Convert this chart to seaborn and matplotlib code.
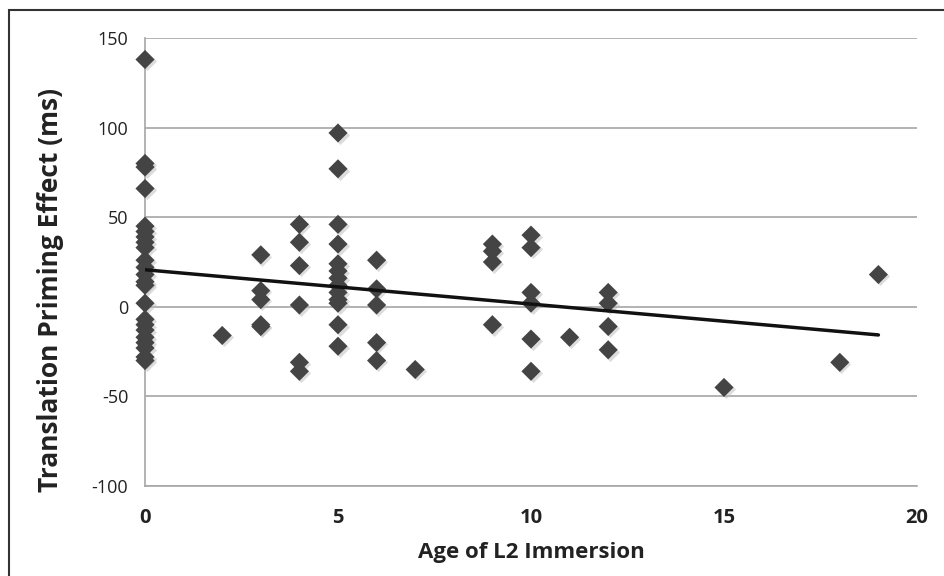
import numpy as np
import pandas as pd
import seaborn as sns
import matplotlib.pyplot as plt
from matplotlib.patches import Rectangle

# ages of L2 immersion and the priming effect
age_0 = [138, 80, 78, 66, 45, 42, 39, 36, 33, 26, 22, 18, 14, 12, 2,
         -7, -10, -13, -17, -20, -23, -28, -30]
age_2 = [-16]
age_3 = [29, 9, 4, -10, -11]
age_4 = [46, 36, 23, 1, -31, -36]
age_5 = [97, 77, 46, 35, 24, 20, 16, 12, 8, 4, 2, -10, -22]
age_6 = [26, 10, 1, -20, -30]
age_7 = [-35]
age_9 = [35, 31, 25, -10]
age_10 = [40, 33, 8, 2, -18, -36]
age_11 = [-17]
age_12 = [8, 2, -11, -24]
age_15 = [-45]
age_18 = [-31]
age_19 = [18]

groups = {0: age_0, 2: age_2, 3: age_3, 4: age_4, 5: age_5, 6: age_6,
          7: age_7, 9: age_9, 10: age_10, 11: age_11, 12: age_12,
          15: age_15, 18: age_18, 19: age_19}
rows = [(a, v) for a, vals in groups.items() for v in vals]
df = pd.DataFrame(rows, columns=["age", "priming"])

sns.set_style("white")
plt.rcParams['font.family'] = ['Open Sans', 'DejaVu Sans']
plt.rcParams['axes.unicode_minus'] = False

fig = plt.figure(figsize=(9.44, 5.76), dpi=100)
ax = fig.add_axes([145 / 944, 1 - 486 / 576, (917 - 145) / 944, (486 - 38) / 576])

# frame around the whole figure
fig.patches.append(Rectangle((9 / 944, -0.05), 1.0, 1 - 10 / 576 + 0.05,
                             transform=fig.transFigure, fill=False,
                             edgecolor="#333333", linewidth=1.5))

# light drop shadow, then the markers
ax.scatter(df["age"] + 0.04, df["priming"] - 1.0, marker="D", s=95,
           color="#bbbbbb", alpha=0.5, linewidths=0, zorder=2, clip_on=False)
sns.scatterplot(data=df, x="age", y="priming", marker="D", s=95,
                color="#444444", edgecolor="none", ax=ax, zorder=3, clip_on=False)
sns.regplot(data=df, x="age", y="priming", scatter=False, ci=None,
            color="#111111", line_kws={"linewidth": 2.5, "zorder": 4}, ax=ax)

ax.set_xlim(0, 20)
ax.set_ylim(-100, 150)
ax.set_xticks([0, 5, 10, 15, 20])
ax.set_yticks([-100, -50, 0, 50, 100, 150])
ax.yaxis.grid(True, color="#a6a6a6", linewidth=1.2)
ax.set_axisbelow(True)

for s in ["top", "right"]:
    ax.spines[s].set_visible(False)
ax.spines["left"].set_color("#a6a6a6")
ax.spines["bottom"].set_color("#a6a6a6")
ax.spines["left"].set_linewidth(1.2)
ax.spines["bottom"].set_linewidth(1.2)

ax.tick_params(axis="x", direction="out", length=6, color="#a6a6a6",
               labelsize=14.5, pad=10, labelcolor="#222222")
ax.tick_params(axis="y", direction="out", length=6, color="#a6a6a6",
               labelsize=13, pad=6, labelcolor="#222222")
for lab in ax.get_xticklabels():
    lab.set_fontweight("bold")

ax.set_xlabel("Age of L2 Immersion", fontsize=16, fontweight="bold",
              labelpad=10, color="#222222")
ax.set_ylabel("Translation Priming Effect (ms)", fontsize=19, fontweight="bold",
              color="#222222")
ax.yaxis.set_label_coords(-0.105, 0.4375)

fig.savefig("out.png", dpi=100)
